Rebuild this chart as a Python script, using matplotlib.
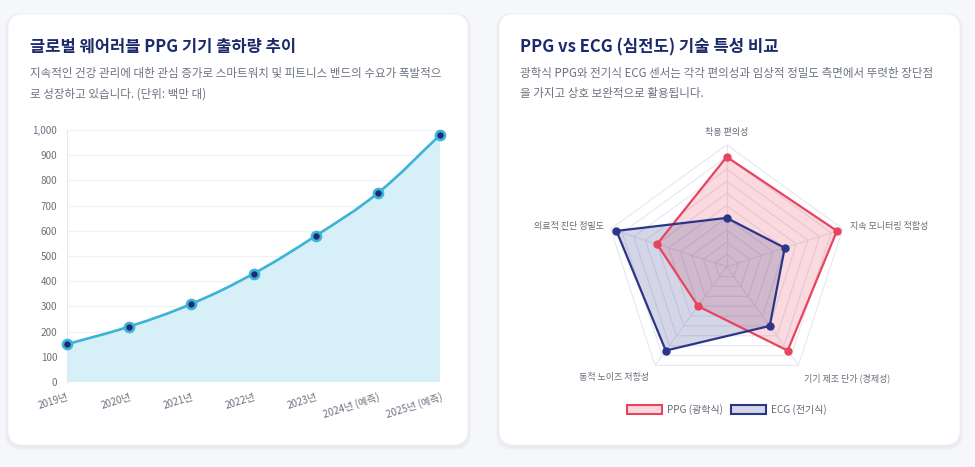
import numpy as np
import matplotlib
matplotlib.use('Agg')
import matplotlib.pyplot as plt
from matplotlib.patches import FancyBboxPatch, Patch, PathPatch
from matplotlib.path import Path
from matplotlib.ticker import FuncFormatter

plt.rcParams['font.family'] = ['Noto Sans CJK KR', 'DejaVu Sans']

# ---------------- data ----------------
years = ['2019년', '2020년', '2021년', '2022년', '2023년', '2024년 (예측)', '2025년 (예측)']
shipments = [150, 220, 310, 430, 580, 750, 980]
y_ticks = [0, 100, 200, 300, 400, 500, 600, 700, 800, 900, 1000]

radar_labels = ['착용 편의성', '지속 모니터링 적합성', '기기 제조 단가 (경제성)',
                '동적 노이즈 저항성', '의료적 진단 정밀도']
ppg_scores = [90, 95, 85, 40, 60]
ecg_scores = [40, 50, 60, 85, 95]
series_names = ['PPG (광학식)', 'ECG (전기식)']

left_title = '글로벌 웨어러블 PPG 기기 출하량 추이'
left_sub = ['지속적인 건강 관리에 대한 관심 증가로 스마트워치 및 피트니스 밴드의 수요가 폭발적으',
            '로 성장하고 있습니다. (단위: 백만 대)']
right_title = 'PPG vs ECG (심전도) 기술 특성 비교'
right_sub = ['광학식 PPG와 전기식 ECG 센서는 각각 편의성과 임상적 정밀도 측면에서 뚜렷한 장단점',
             '을 가지고 상호 보완적으로 활용됩니다.']

# ---------------- figure ----------------
W, H = 975, 467
fig = plt.figure(figsize=(W / 100, H / 100), dpi=100)
fig.patch.set_facecolor('#f5f7fa')

bg = fig.add_axes([0, 0, 1, 1], zorder=-10)
bg.set_xlim(0, W)
bg.set_ylim(H, 0)
bg.axis('off')

def card(x0, y0, x1, y1):
    for i, a in enumerate([0.02, 0.016, 0.012]):
        s = 3 - i
        bg.add_patch(FancyBboxPatch((x0 - s, y0 - s + 2), (x1 - x0) + 2 * s, (y1 - y0) + 2 * s,
                                    boxstyle='round,pad=0,rounding_size=16',
                                    facecolor='#1f2a44', alpha=a, edgecolor='none'))
    bg.add_patch(FancyBboxPatch((x0, y0), x1 - x0, y1 - y0,
                                boxstyle='round,pad=0,rounding_size=15',
                                facecolor='white', edgecolor='#eef0f4', linewidth=0.5))

card(8, 14, 468, 445)
card(499, 14, 960, 445)

title_color = '#1b2a6b'
sub_color = '#6b7280'
bg.text(30, 47, left_title, fontsize=11.9, fontweight='bold', color=title_color, va='center', ha='left')
bg.text(30, 74, left_sub[0], fontsize=8.3, color=sub_color, va='center', ha='left')
bg.text(30, 94, left_sub[1], fontsize=8.3, color=sub_color, va='center', ha='left')
bg.text(520, 47, right_title, fontsize=12, fontweight='bold', color=title_color, va='center', ha='left')
bg.text(520, 74, right_sub[0], fontsize=8.3, color=sub_color, va='center', ha='left')
bg.text(520, 94, right_sub[1], fontsize=8.3, color=sub_color, va='center', ha='left')

# ---------------- line chart ----------------
px0, px1, py0, py1 = 67, 440, 382, 130
ax = fig.add_axes([px0 / W, (H - py0) / H, (px1 - px0) / W, (py0 - py1) / H])
n = len(years)
xs = np.arange(n)
ax.set_xlim(0, n - 1)
ax.set_ylim(0, 1000)

line_c = '#3bb4d6'
fill_c = '#d7eff6'

# Chart.js-like spline (tension 0.4) computed in display space
pts = ax.transData.transform(np.column_stack([xs, shipments]))
t = 0.4
cps = []
for i in range(n):
    prev = pts[max(i - 1, 0)]
    cur = pts[i]
    nxt = pts[min(i + 1, n - 1)]
    d01 = np.hypot(*(cur - prev))
    d12 = np.hypot(*(nxt - cur))
    tot = d01 + d12
    s01 = d01 / tot if tot else 0
    s12 = d12 / tot if tot else 0
    cp_prev = cur - t * s01 * (nxt - prev)
    cp_next = cur + t * s12 * (nxt - prev)
    cps.append((cp_prev, cp_next))
verts = [pts[0]]
codes = [Path.MOVETO]
for i in range(n - 1):
    verts += [cps[i][1], cps[i + 1][0], pts[i + 1]]
    codes += [Path.CURVE4] * 3
inv = ax.transData.inverted()
verts_d = inv.transform(np.array(verts))

fill_verts = np.vstack([verts_d, [[n - 1, 0], [0, 0], verts_d[0]]])
fill_codes = codes + [Path.LINETO, Path.LINETO, Path.CLOSEPOLY]
ax.add_patch(PathPatch(Path(fill_verts, fill_codes), facecolor=fill_c, edgecolor='none', zorder=1))
ax.add_patch(PathPatch(Path(verts_d, codes), facecolor='none', edgecolor=line_c, linewidth=1.9,
                       zorder=3, capstyle='round'))
ax.plot(xs, shipments, linestyle='none', marker='o', markersize=6.5, markerfacecolor='#1e2a78',
        markeredgecolor=line_c, markeredgewidth=1.9, zorder=4, clip_on=False)

ax.set_yticks(y_ticks)
ax.yaxis.set_major_formatter(FuncFormatter(lambda v, p: f'{int(v):,}'))
ax.set_xticks(xs)
ax.set_xticklabels(years, rotation=18, ha='right', rotation_mode='anchor')
ax.tick_params(axis='both', length=0, labelsize=7.2, labelcolor='#6b7280')
ax.tick_params(axis='y', pad=7)
ax.tick_params(axis='x', pad=7)
ax.grid(axis='y', color='#eef1f6', linewidth=0.8, zorder=0)
ax.set_axisbelow(True)
for s in ['top', 'right', 'bottom']:
    ax.spines[s].set_visible(False)
ax.spines['left'].set_color('#e5e8ee')
ax.spines['left'].set_linewidth(0.8)
ax.set_facecolor('none')

# ---------------- radar chart ----------------
cx, cy, R = 726.7, 266.7, 122
rax = fig.add_axes([(cx - R) / W, (H - cy - R) / H, 2 * R / W, 2 * R / H], projection='polar')
rax.set_theta_zero_location('N')
rax.set_theta_direction(-1)
rax.set_ylim(0, 100)
rax.set_xticks([])
rax.set_yticks([])
rax.grid(False)
rax.spines['polar'].set_visible(False)
rax.set_facecolor('none')

k = len(radar_labels)
ang = np.linspace(0, 2 * np.pi, k, endpoint=False)
ang_c = np.append(ang, ang[0])
grid_c = '#e4e8f0'
for r in range(10, 101, 10):
    rax.plot(ang_c, [r] * (k + 1), color=grid_c, linewidth=0.8, zorder=1)
for a in ang:
    rax.plot([a, a], [0, 100], color=grid_c, linewidth=0.8, zorder=1)

ppg_c = '#e8435f'
ecg_c = '#2b3688'
for vals, c in [(ppg_scores, ppg_c), (ecg_scores, ecg_c)]:
    v = np.append(vals, vals[0])
    rax.fill(ang_c, v, color=c, alpha=0.2, zorder=2, linewidth=0)
    rax.plot(ang_c, v, color=c, linewidth=1.6, zorder=3)
    rax.plot(ang, vals, linestyle='none', marker='o', markersize=5, color=c, zorder=4)

lab_pos = [(106, 'center', 'bottom'), (106, 'left', 'center'), (108, 'left', 'top'),
           (108, 'right', 'top'), (106, 'right', 'center')]
for a, lab, (r, ha, va) in zip(ang, radar_labels, lab_pos):
    rax.text(a, r, lab, ha=ha, va=va, fontsize=6.5, color='#666c78')

handles = [Patch(facecolor=(0.91, 0.26, 0.37, 0.2), edgecolor=ppg_c, linewidth=1.5, label=series_names[0]),
           Patch(facecolor=(0.17, 0.21, 0.53, 0.2), edgecolor=ecg_c, linewidth=1.5, label=series_names[1])]
fig.legend(handles=handles, loc='center', bbox_to_anchor=(cx / W, (H - 410) / H), ncol=2,
           frameon=False, fontsize=7.2, handlelength=3.5, handleheight=1.0, handletextpad=0.5,
           columnspacing=0.8, labelcolor='#666c78')

fig.savefig('out.png', dpi=100, facecolor=fig.get_facecolor())
